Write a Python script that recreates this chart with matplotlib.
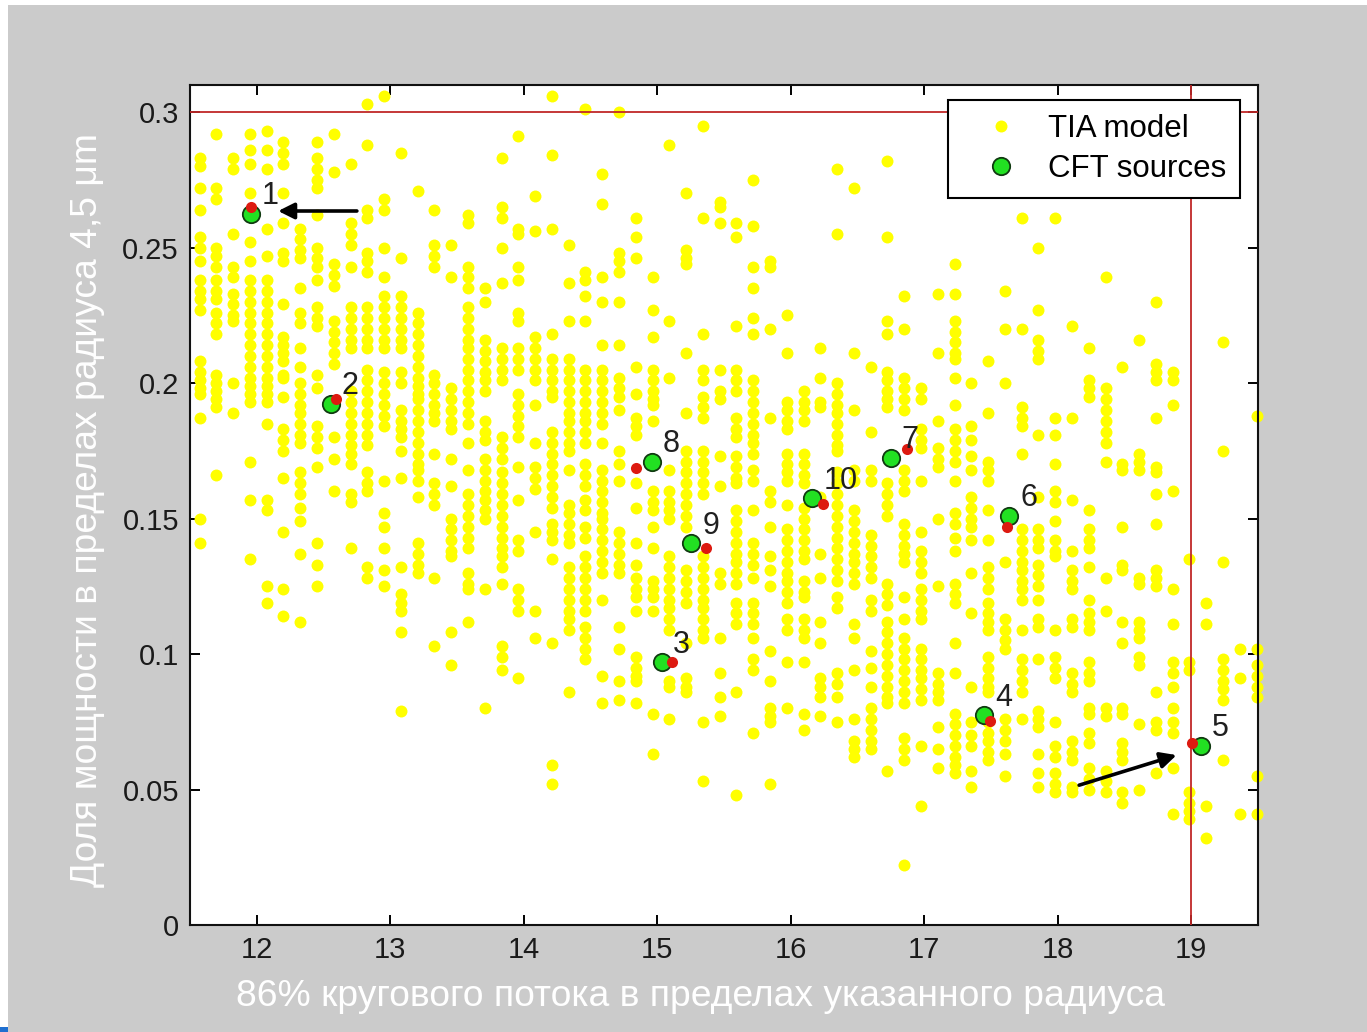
import matplotlib
matplotlib.use("Agg")
import matplotlib.pyplot as plt
from matplotlib.patches import Rectangle

# TIA model: columns of points (x of column, y values in thousandths)
col_x = [11.572, 11.698, 11.823, 11.949, 12.075, 12.200, 12.326, 12.452,
         12.577, 12.703, 12.829, 12.954, 13.080, 13.206, 13.331, 13.457,
         13.583, 13.708, 13.834, 13.960, 14.085, 14.211, 14.337, 14.462,
         14.588, 14.714, 14.839, 14.965, 15.091, 15.216, 15.342, 15.468,
         15.593, 15.719, 15.845, 15.970, 16.096, 16.222, 16.347, 16.473,
         16.599, 16.724, 16.850, 16.976, 17.101, 17.227, 17.353, 17.478,
         17.604, 17.730, 17.855, 17.981, 18.107, 18.232, 18.358, 18.484,
         18.609, 18.735, 18.861, 18.986, 19.112, 19.238, 19.363, 19.489]

col_y = [
    "283 280 272 264 254 250 245 238 234 231 227 208 204 201 198 196 187 150 141",
    "292 272 268 250 247 243 238 234 231 226 222 218 203 200 197 194 191 166",
    "283 279 255 243 239 233 229 225 223 200 189",
    "292 286 281 270 252 245 238 234 230 226 222 218 214 210 206 202 199 196 193 171 157 135",
    "293 286 279 257 247 238 234 230 226 222 218 214 210 206 202 199 196 193 185 157 153 125 119",
    "289 285 281 270 259 248 245 229 217 214 211 208 203 202 195 183 179 175 165 145 124 114",
    "257 253 249 246 235 226 222 213 206 200 196 192 189 185 181 178 167 163 159 154 149 137 112",
    "289 283 279 275 272 262 250 246 243 238 228 224 221 203 198 184 180 176 169 141 133 125",
    "292 278 244 240 236 223 219 215 211 207 180 172 160",
    "281 259 255 251 243 228 224 220 216 213 197 193 189 185 181 177 174 170 159 156 139",
    "303 288 264 261 248 245 241 228 224 220 216 213 205 201 197 193 189 185 181 177 167 163 160 132 128",
    "306 268 264 250 239 232 228 224 220 216 213 204 200 196 192 188 184 164 152 147 139 131 125",
    "285 246 232 228 224 220 216 213 204 200 190 186 183 180 175 165 132 122 119 116 108 079",
    "271 226 222 218 214 210 206 202 199 196 194 190 186 182 178 174 170 168 164 158 141 137 133 130",
    "264 251 247 243 203 200 196 192 189 186 174 163 159 155 128 103",
    "251 239 198 194 190 186 183 172 162 150 146 142 138 136 108 096",
    "262 259 243 239 235 228 224 220 216 213 209 205 201 197 193 189 185 178 168 159 155 151 147 143 139 130 126 124 112",
    "235 230 216 212 208 204 201 197 186 182 179 172 168 164 160 157 153 150 124 080",
    "283 265 261 250 237 213 209 205 201 180 176 172 167 163 159 155 151 147 143 139 136 132 126 103 099 094",
    "291 257 255 243 238 226 223 213 209 205 196 192 188 184 180 169 157 142 138 124 120 116 091",
    "269 256 217 213 209 205 201 192 178 169 165 161 145 116 106",
    "306 284 257 218 209 205 201 197 195 182 178 174 170 166 162 158 154 148 145 142 135 104 059 052",
    "251 237 223 209 205 201 197 193 189 186 182 178 175 168 155 152 148 144 141 132 128 124 120 116 113 109 086",
    "301 241 238 232 223 205 201 197 193 189 186 182 178 170 166 162 157 153 147 143 136 132 128 124 120 116 110 106 102 098",
    "277 266 239 230 214 205 201 197 193 189 185 178 168 164 160 156 152 150 146 142 138 134 130 120 092 082",
    "300 248 245 241 230 214 202 198 195 190 175 170 164 145 141 137 133 130 110 102 090 083",
    "261 254 246 206 196 187 184 181 163 154 141 133 128 124 121 116 099 095 092 090 082",
    "239 227 217 205 201 197 194 192 186 160 156 153 147 139 127 124 121 116 078 063",
    "288 223 202 168 160 156 153 150 136 132 128 124 120 117 113 109 090 088 076",
    "270 249 246 244 211 189 175 171 167 163 159 155 151 147 131 127 123 119 104 091 088 086",
    "295 261 218 205 201 195 191 187 175 171 167 163 159 136 132 128 124 120 117 113 109 106 075 053",
    "267 265 259 205 197 194 173 162 130 126 106 093 084 077",
    "259 254 221 205 201 197 187 183 180 173 169 165 163 153 149 145 141 137 134 130 126 119 115 111 086 048",
    "275 258 243 235 224 218 201 197 193 189 185 181 178 174 168 164 153 141 137 133 128 119 115 111 106 098 094 071",
    "245 243 220 187 160 156 147 136 131 125 101 090 080 077 075 052",
    "225 211 193 190 186 183 174 170 167 164 155 146 142 138 134 130 127 123 119 113 109 097 080",
    "197 193 190 186 174 170 166 163 154 150 146 142 138 135 127 123 121 113 109 106 097 078 072",
    "213 202 193 191 158 137 128 112 104 091 088 084 077",
    "279 255 200 196 192 189 185 181 177 175 167 163 159 155 151 147 143 139 135 131 127 121 117 093 089 084 075",
    "272 211 190 168 164 153 149 145 141 137 134 130 126 111 106 094 076 068 065 062",
    "206 182 168 164 144 140 136 132 128 120 116 101 095 088 080 076 072 068 065",
    "282 254 223 218 204 201 197 194 191 163 159 155 151 126 122 118 112 108 104 100 096 092 088 084 082 057",
    "232 220 202 198 194 190 168 164 160 148 144 140 137 134 121 113 106 102 098 094 090 086 082 069 065 061 022",
    "198 194 183 179 176 164 145 138 134 130 124 120 116 113 102 098 094 091 087 083 066 044",
    "233 211 186 176 172 169 150 125 093 089 086 083 073 065 058",
    "244 233 223 219 215 211 209 202 192 183 179 175 171 164 152 148 143 138 126 122 119 104 093 078 074 070 066 062 059 056",
    "200 184 179 173 168 158 154 150 147 142 130 115 088 075 070 066 057 051",
    "208 189 171 168 164 153 142 132 128 124 119 115 112 109 099 095 091 088 086 075 071 068 064 061",
    "234 220 200 134 113 109 105 102 076 072 068 063 055",
    "261 220 191 187 184 174 146 142 138 134 131 127 124 120 109 098 094 090 086 076",
    "250 227 216 212 209 181 158 146 142 139 133 129 125 120 113 110 098 079 076 073 063 056 051",
    "261 187 181 170 160 156 149 142 138 136 109 099 095 091 075 066 062 056 052 049",
    "221 187 157 138 131 127 124 113 110 093 089 086 068 064 061 051 049",
    "213 201 198 195 153 146 142 139 132 120 115 112 109 097 093 090 080 078 071 067 058 054 050",
    "239 198 194 190 186 182 178 171 128 116 080 077 057 053 049",
    "206 170 168 147 133 131 112 104 080 078 067 064 061 049 045",
    "216 174 171 168 128 126 112 109 106 099 096 074 050",
    "230 207 204 201 187 169 167 159 148 131 128 125 086 075 072 056",
    "204 201 192 160 124 111 097 093 088 080 075 071 058 041",
    "135 097 094 049 045 042 039",
    "119 111 044 032",
    "215 175 134 098 094 090 087 083 061",
    "102 091 041",
    "188 102 096 092 088 084 055 041",
]

# CFT sources (green) and their partners (red)
cft_labels = ["1", "2", "3", "4", "5", "6", "7", "8", "9", "10"]
cft_x = [11.955, 12.553, 15.036, 17.447, 19.074, 17.634, 16.749, 14.960, 15.254, 16.160]
cft_y = [0.2624, 0.1924, 0.0969, 0.0774, 0.0660, 0.1511, 0.1725, 0.1710, 0.1408, 0.1574]
red_x = [11.955, 12.593, 15.110, 17.490, 19.004, 17.619, 16.869, 14.843, 15.368, 16.240]
red_y = [0.2650, 0.1942, 0.0969, 0.0752, 0.0671, 0.1470, 0.1755, 0.1688, 0.1390, 0.1552]

# arrows (tail -> head)
arrow_tail = [(12.75, 0.2635), (18.16, 0.0516)]
arrow_head = [(12.16, 0.2635), (18.89, 0.0627)]

tia_x, tia_y = [], []
for cx, ys in zip(col_x, col_y):
    for v in ys.split():
        tia_x.append(cx)
        tia_y.append(int(v) / 1000)

W, H = 1367, 1032
fig = plt.figure(figsize=(W / 100, H / 100), dpi=100, facecolor="white")
gray = "#cbcbcb"
fig.add_artist(Rectangle((8 / W, 0), 1, 1 - 5 / H, transform=fig.transFigure,
                         facecolor=gray, edgecolor="none", zorder=-5))
fig.add_artist(Rectangle((0, 0), 8 / W, 5 / H, transform=fig.transFigure,
                         facecolor="#1f6fd0", edgecolor="none", zorder=-5))

ax = fig.add_axes([190 / W, 1 - 925 / H, 1068 / W, 840 / H])
ax.set_facecolor("white")

ax.plot(tia_x, tia_y, "o", color="#ffff00", markersize=8.6, markeredgewidth=0,
        linestyle="none", label="TIA model", clip_on=False, zorder=2)
ax.axhline(0.3, color="#c02828", lw=1.3, zorder=3)
ax.axvline(19.0, color="#c02828", lw=1.3, zorder=3)
ax.plot(cft_x, cft_y, "o", color="#22e022", markersize=12.5, markeredgecolor="#103a10",
        markeredgewidth=1.3, linestyle="none", label="CFT sources", zorder=4)
ax.plot(red_x, red_y, "o", color="#dd1a10", markersize=8, markeredgewidth=0,
        linestyle="none", zorder=5)

for lab, x, y in zip(cft_labels, cft_x, cft_y):
    ax.annotate(lab, (x, y), xytext=(8, 7), textcoords="offset points",
                fontsize=22, family="Liberation Sans", color="#202020",
                ha="left", va="baseline", zorder=6)

for t, h in zip(arrow_tail, arrow_head):
    ax.annotate("", xy=h, xytext=t,
                arrowprops=dict(arrowstyle="-|>", color="black", lw=2.6,
                                mutation_scale=24, shrinkA=0, shrinkB=0),
                zorder=6)

ax.set_xlim(11.5, 19.5)
ax.set_ylim(0, 0.31)
ax.set_xticks(range(12, 20))
ax.set_yticks([0, 0.05, 0.1, 0.15, 0.2, 0.25, 0.3])
ax.set_yticklabels(["0", "0.05", "0.1", "0.15", "0.2", "0.25", "0.3"])
ax.tick_params(direction="in", length=7, width=1.4, top=True, right=True,
               labelsize=21, labelcolor="#1a1a1a", pad=8)
for lbl in ax.get_xticklabels() + ax.get_yticklabels():
    lbl.set_family("Liberation Sans")
for sp in ax.spines.values():
    sp.set_linewidth(1.5)
    sp.set_color("#111111")

leg = ax.legend(loc="upper right", bbox_to_anchor=(0.983, 0.982),
                prop={"family": "Liberation Sans", "size": 22.5},
                frameon=True, fancybox=False, framealpha=1, edgecolor="black",
                borderpad=0.45, labelspacing=0.3, handlelength=2.5,
                handletextpad=0.25, borderaxespad=0)
leg.get_frame().set_linewidth(1.5)
leg.set_zorder(10)

# cover the lower part of the x tick labels, as in the slide
fig.add_artist(Rectangle((8 / W, 0), 1, 72 / H, transform=fig.transFigure,
                         facecolor=gray, edgecolor="none", zorder=2))

fig.text(701 / W, 1 - 996 / H, "86% кругового потока в пределах указанного радиуса",
         color="white", fontsize=26.8, family="Liberation Sans",
         ha="center", va="center", zorder=3)
fig.text(88 / W, 1 - 510 / H, "Доля мощности в пределах радиуса 4,5 μm",
         color="white", fontsize=26.8, family="Liberation Sans", rotation=90,
         ha="center", va="center", zorder=3)

fig.savefig("out.png", dpi=100, facecolor=fig.get_facecolor())
